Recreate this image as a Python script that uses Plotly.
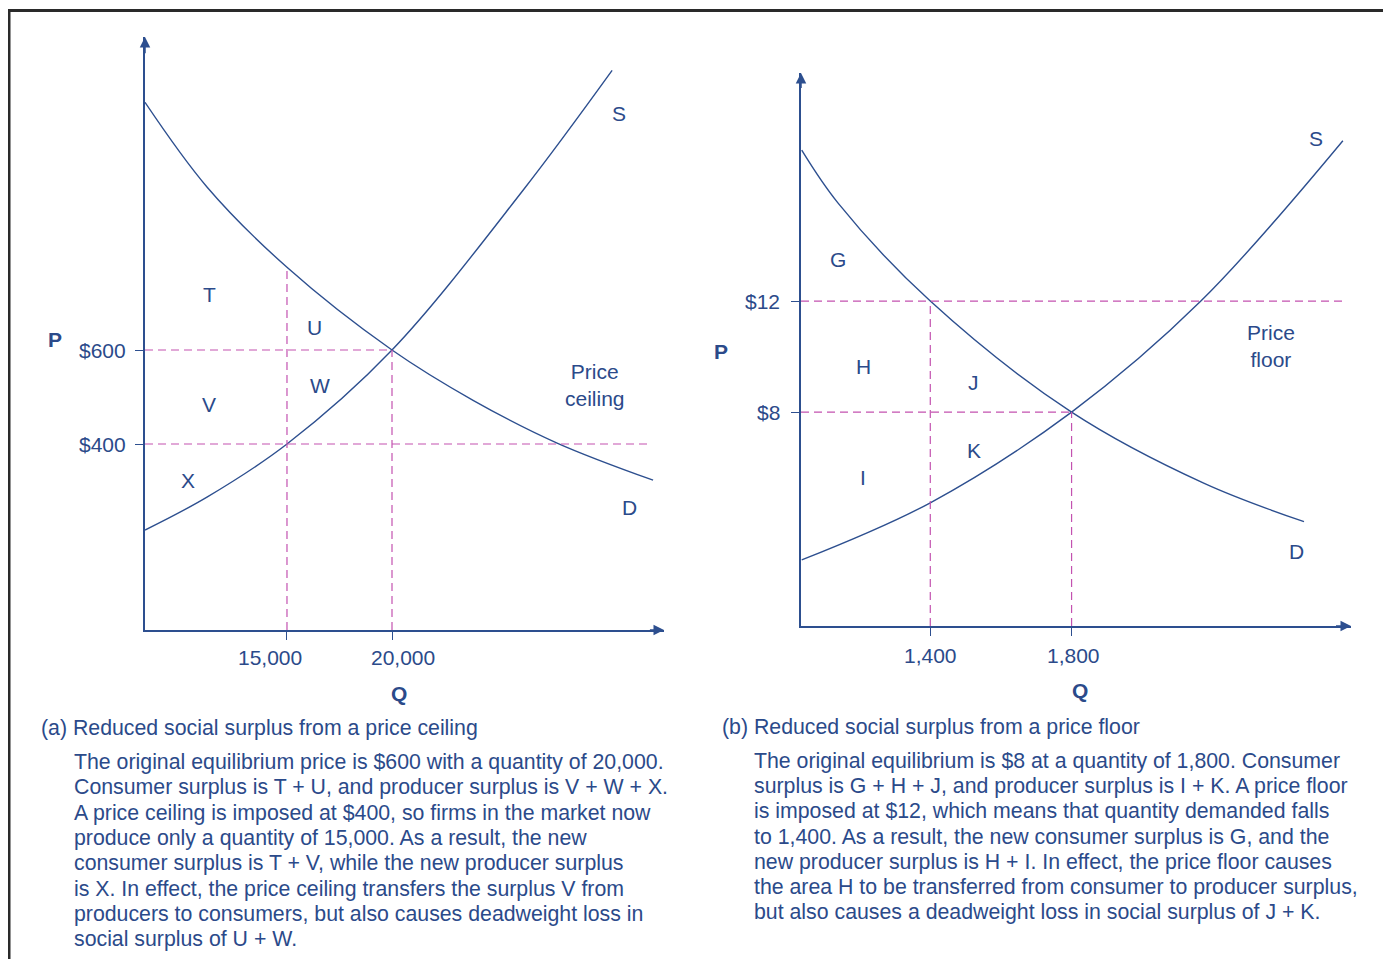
import plotly.graph_objects as go

# ---------------- data ----------------
# Panel (a): price ceiling
QA_DEMAND = [8240, 11190, 15000, 20000, 23860, 27860, 32430]
PA_DEMAND = [1127, 947, 776, 600, 493, 402, 323]
QA_SUPPLY = [8240, 11190, 15000, 20000, 26240, 30480]
PA_SUPPLY = [217, 287, 400, 600, 940, 1195]
QA_TICKS = [15000, 20000]
QA_TICK_LABELS = ["15,000", "20,000"]
PA_TICKS = [600, 400]
PA_TICK_LABELS = ["$600", "$400"]
PA_EQUIL = 600
PA_CEILING = 400
QA_EQUIL = 20000
QA_CEILING = 15000
PA_DEMAND_AT_CEILING_Q = 776
QA_CEILING_LINE_END = 32190
QA_AXIS = [8240, 32950]
PA_AXIS = [4.3, 1266]
LABELS_A = ["T", "U", "V", "W", "X", "S", "D", "Price<br>ceiling"]
LABELS_A_Q = [11290, 16290, 11290, 16570, 10290, 30810, 31290, 29670]
LABELS_A_P = [719, 647, 485, 525, 323, 1104, 264, 525]

# Panel (b): price floor
QB_DEMAND = [1036, 1139, 1400, 1800, 2174, 2458]
PB_DEMAND = [17.44, 15.53, 12.0, 8.0, 5.44, 4.05]
QB_SUPPLY = [1036, 1400, 1800, 2166, 2568]
PB_SUPPLY = [2.67, 4.73, 8.0, 12.0, 17.78]
QB_TICKS = [1400, 1800]
QB_TICK_LABELS = ["1,400", "1,800"]
PB_TICKS = [12, 8]
PB_TICK_LABELS = ["$12", "$8"]
PB_FLOOR = 12
PB_EQUIL = 8
QB_FLOOR = 1400
QB_EQUIL = 1800
QB_FLOOR_LINE_END = 2569
QB_AXIS = [1034, 2591]
PB_AXIS = [0.29, 20.22]
LABELS_B = ["G", "H", "J", "K", "I", "S", "D", "Price<br>floor"]
LABELS_B_Q = [1139, 1210, 1522, 1525, 1210, 2492, 2438, 2365]
LABELS_B_P = [13.51, 9.66, 9.08, 6.63, 5.66, 17.87, 2.99, 10.38]

CAPTION_A_TITLE = "(a) Reduced social surplus from a price ceiling"
CAPTION_A = [
    "The original equilibrium price is $600 with a quantity of 20,000.",
    "Consumer surplus is T + U, and producer surplus is V + W + X.",
    "A price ceiling is imposed at $400, so firms in the market now",
    "produce only a quantity of 15,000. As a result, the new",
    "consumer surplus is T + V, while the new producer surplus",
    "is X. In effect, the price ceiling transfers the surplus V from",
    "producers to consumers, but also causes deadweight loss in",
    "social surplus of U + W.",
]
CAPTION_B_TITLE = "(b) Reduced social surplus from a price floor"
CAPTION_B = [
    "The original equilibrium is $8 at a quantity of 1,800. Consumer",
    "surplus is G + H + J, and producer surplus is I + K. A price floor",
    "is imposed at $12, which means that quantity demanded falls",
    "to 1,400. As a result, the new consumer surplus is G, and the",
    "new producer surplus is H + I. In effect, the price floor causes",
    "the area H to be transferred from consumer to producer surplus,",
    "but also causes a deadweight loss in social surplus of J + K.",
]

# ---------------- style ----------------
PAGE_MARGIN = 8          # browser default body margin
W, H = 1375, 951         # figure size fitting the 1391x967 window
BLUE = "#2d4f8f"
TXT = "#2b4a8a"
MAG = "#c352b0"
FONT = "Liberation Sans, Arial, Helvetica, sans-serif"
FS = 21


def px(x):
    return (x - PAGE_MARGIN) / W


def py(y):
    return 1 - (y - PAGE_MARGIN) / H


fig = go.Figure()

curve = dict(color=BLUE, width=1.4, shape="spline", smoothing=1.0)
dash = dict(color=MAG, width=1.2, dash="8px,5px")

# ---- panel a ----
for q, p in [(QA_DEMAND, PA_DEMAND), (QA_SUPPLY, PA_SUPPLY)]:
    fig.add_trace(go.Scatter(x=q, y=p, mode="lines", line=curve, xaxis="x", yaxis="y", hoverinfo="skip"))
for q, p in [
    ([QA_AXIS[0], QA_EQUIL], [PA_EQUIL, PA_EQUIL]),
    ([QA_AXIS[0], QA_CEILING_LINE_END], [PA_CEILING, PA_CEILING]),
    ([QA_CEILING, QA_CEILING], [PA_AXIS[0], PA_DEMAND_AT_CEILING_Q]),
    ([QA_EQUIL, QA_EQUIL], [PA_AXIS[0], PA_EQUIL]),
]:
    fig.add_trace(go.Scatter(x=q, y=p, mode="lines", line=dash, xaxis="x", yaxis="y", hoverinfo="skip"))

# ---- panel b ----
for q, p in [(QB_DEMAND, PB_DEMAND), (QB_SUPPLY, PB_SUPPLY)]:
    fig.add_trace(go.Scatter(x=q, y=p, mode="lines", line=curve, xaxis="x2", yaxis="y2", hoverinfo="skip"))
for q, p in [
    ([QB_AXIS[0], QB_FLOOR_LINE_END], [PB_FLOOR, PB_FLOOR]),
    ([QB_AXIS[0], QB_EQUIL], [PB_EQUIL, PB_EQUIL]),
    ([QB_FLOOR, QB_FLOOR], [PB_AXIS[0], PB_FLOOR]),
    ([QB_EQUIL, QB_EQUIL], [PB_AXIS[0], PB_EQUIL]),
]:
    fig.add_trace(go.Scatter(x=q, y=p, mode="lines", line=dash, xaxis="x2", yaxis="y2", hoverinfo="skip"))

axis_common = dict(
    showgrid=False, zeroline=False, showline=True, linecolor=BLUE, linewidth=1.5,
    ticks="outside", ticklen=8, tickwidth=1.3, tickcolor=BLUE, showticklabels=False,
    fixedrange=True,
)

fig.update_layout(
    width=W, height=H,
    margin=dict(l=0, r=0, t=0, b=0),
    paper_bgcolor="white", plot_bgcolor="white",
    showlegend=False,
    font=dict(family=FONT, size=FS, color=TXT),
    xaxis=dict(domain=[px(145), px(664)], range=QA_AXIS, tickvals=QA_TICKS, anchor="y", **axis_common),
    yaxis=dict(domain=[py(630), py(37)], range=PA_AXIS, tickvals=PA_TICKS, anchor="x", **axis_common),
    xaxis2=dict(domain=[px(801), px(1351)], range=QB_AXIS, tickvals=QB_TICKS, anchor="y2", **axis_common),
    yaxis2=dict(domain=[py(626), py(73)], range=PB_AXIS, tickvals=PB_TICKS, anchor="x2", **axis_common),
)

ann = []
# axis arrowheads
for xr, yr, xa, ya in [("x", "y", QA_AXIS, PA_AXIS), ("x2", "y2", QB_AXIS, PB_AXIS)]:
    ann.append(dict(xref=xr, yref=yr, axref=xr, ayref=yr, x=xa[1], y=ya[0],
                    ax=xa[1] - 0.03 * (xa[1] - xa[0]), ay=ya[0], text="", showarrow=True,
                    arrowhead=2, arrowsize=1.4, arrowwidth=1.5, arrowcolor=BLUE, standoff=0))
    ann.append(dict(xref=xr, yref=yr, axref=xr, ayref=yr, x=xa[0], y=ya[1],
                    ax=xa[0], ay=ya[1] - 0.03 * (ya[1] - ya[0]), text="", showarrow=True,
                    arrowhead=2, arrowsize=1.4, arrowwidth=1.5, arrowcolor=BLUE, standoff=0))

tf = dict(family=FONT, size=FS, color=TXT)
# tick labels
for v, t in zip(PA_TICKS, PA_TICK_LABELS):
    ann.append(dict(xref="x", yref="y", x=QA_AXIS[0], y=v, text=t, showarrow=False,
                    xanchor="right", yanchor="middle", xshift=-17, font=tf))
for v, t, s in zip(QA_TICKS, QA_TICK_LABELS, [-17, 11]):
    ann.append(dict(xref="x", yref="paper", x=v, y=py(657), text=t, showarrow=False,
                    xanchor="center", yanchor="middle", xshift=s, font=tf))
for v, t in zip(PB_TICKS, PB_TICK_LABELS):
    ann.append(dict(xref="x2", yref="y2", x=QB_AXIS[0], y=v, text=t, showarrow=False,
                    xanchor="right", yanchor="middle", xshift=-19, font=tf))
for v, t, s in zip(QB_TICKS, QB_TICK_LABELS, [0, 2]):
    ann.append(dict(xref="x2", yref="paper", x=v, y=py(655), text=t, showarrow=False,
                    xanchor="center", yanchor="middle", xshift=s, font=tf))

# axis titles
for x, y, t in [(55, 339, "P"), (399, 693, "Q"), (721, 351, "P"), (1080, 690, "Q")]:
    ann.append(dict(xref="paper", yref="paper", x=px(x), y=py(y), text=f"<b>{t}</b>",
                    showarrow=False, xanchor="center", yanchor="middle", font=tf))

# region / curve labels
for t, q, p in zip(LABELS_A, LABELS_A_Q, LABELS_A_P):
    ann.append(dict(xref="x", yref="y", x=q, y=p, text=t, showarrow=False,
                    xanchor="center", yanchor="middle", font=tf))
for t, q, p in zip(LABELS_B, LABELS_B_Q, LABELS_B_P):
    ann.append(dict(xref="x2", yref="y2", x=q, y=p, text=t, showarrow=False,
                    xanchor="center", yanchor="middle", font=tf))

# captions
cf = dict(family=FONT, size=21.3, color=TXT)
ann.append(dict(xref="paper", yref="paper", x=px(40), y=py(728), text=CAPTION_A_TITLE,
                showarrow=False, xanchor="left", yanchor="middle", font=cf, borderpad=0))
for i, line in enumerate(CAPTION_A):
    ann.append(dict(xref="paper", yref="paper", x=px(73), y=py(762 + i * 25.3), text=line,
                    showarrow=False, xanchor="left", yanchor="middle", font=cf, borderpad=0))
ann.append(dict(xref="paper", yref="paper", x=px(721), y=py(727), text=CAPTION_B_TITLE,
                showarrow=False, xanchor="left", yanchor="middle", font=cf, borderpad=0))
for i, line in enumerate(CAPTION_B):
    ann.append(dict(xref="paper", yref="paper", x=px(753), y=py(761 + i * 25.2), text=line,
                    showarrow=False, xanchor="left", yanchor="middle", font=cf, borderpad=0))

fig.update_layout(annotations=ann)

# frame (top and left rules)
fig.add_shape(type="line", xref="paper", yref="paper", x0=0, x1=1, y0=py(10.5), y1=py(10.5),
              line=dict(color="#2a2a2a", width=3))
fig.add_shape(type="line", xref="paper", yref="paper", x0=px(9), x1=px(9), y0=py(9), y1=0,
              line=dict(color="#2a2a2a", width=3))

fig.write_html("out.html")
